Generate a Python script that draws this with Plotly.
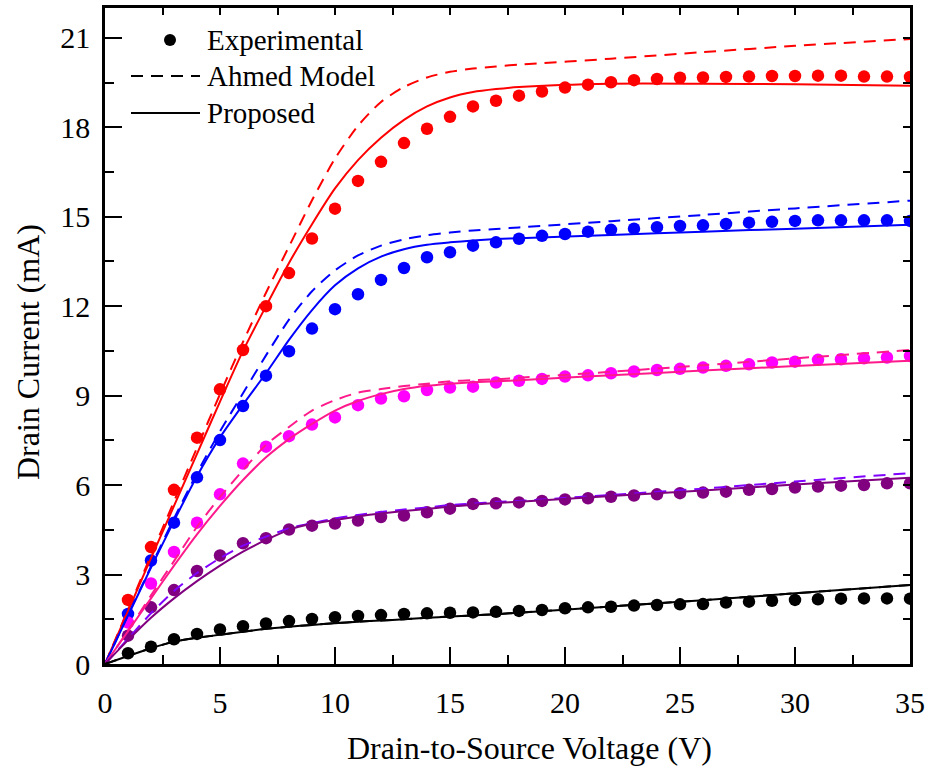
import plotly.graph_objects as go

# ---------------- data ----------------
v_exp = list(range(1, 36))
red_exp = [2.15, 3.92, 5.84, 7.59, 9.21, 10.53, 12.0, 13.11, 14.27, 15.27, 16.2, 16.84, 17.47, 17.95, 18.35,
           18.70, 18.89, 19.06, 19.2, 19.33, 19.43, 19.51, 19.58, 19.62, 19.66, 19.67, 19.69, 19.70, 19.72,
           19.72, 19.73, 19.73, 19.70, 19.70, 19.69]
blue_exp = [1.68, 3.47, 4.74, 6.26, 7.51, 8.65, 9.67, 10.49, 11.25, 11.90, 12.40, 12.88, 13.28, 13.64, 13.81,
            14.03, 14.14, 14.26, 14.36, 14.42, 14.50, 14.56, 14.60, 14.65, 14.69, 14.71, 14.76, 14.80, 14.83,
            14.86, 14.88, 14.88, 14.88, 14.88, 14.86]
magenta_exp = [1.39, 2.70, 3.76, 4.74, 5.69, 6.72, 7.29, 7.64, 8.03, 8.27, 8.68, 8.90, 8.98, 9.19, 9.27, 9.30,
               9.44, 9.50, 9.56, 9.64, 9.68, 9.75, 9.81, 9.86, 9.90, 9.94, 10.00, 10.05, 10.11, 10.14, 10.20,
               10.22, 10.25, 10.28, 10.33]
purple_exp = [0.95, 1.90, 2.48, 3.12, 3.64, 4.05, 4.22, 4.51, 4.64, 4.71, 4.81, 4.93, 4.98, 5.09, 5.21, 5.37,
              5.39, 5.42, 5.47, 5.52, 5.56, 5.61, 5.65, 5.69, 5.73, 5.75, 5.78, 5.84, 5.87, 5.92, 5.95, 5.98,
              6.00, 6.06, 6.06]
black_exp = [0.36, 0.58, 0.83, 1.01, 1.16, 1.27, 1.36, 1.44, 1.51, 1.57, 1.61, 1.64, 1.68, 1.70, 1.72, 1.73,
             1.75, 1.78, 1.81, 1.87, 1.90, 1.92, 1.96, 1.98, 2.00, 2.01, 2.06, 2.09, 2.12, 2.15, 2.17, 2.19,
             2.20, 2.20, 2.19]

v_mod = list(range(0, 19)) + [22, 26, 30, 35]
red_prop = [0, 1.77, 3.55, 5.3, 7.05, 8.8, 10.5, 12.0, 13.45, 14.75, 15.95, 16.9, 17.65, 18.25, 18.7, 19.0,
            19.18, 19.28, 19.35, 19.46, 19.46, 19.44, 19.39]
red_ahmed = [0, 1.82, 3.65, 5.45, 7.25, 9.05, 10.8, 12.45, 14.0, 15.55, 16.95, 18.05, 18.85, 19.35, 19.67, 19.86,
             19.97, 20.04, 20.1, 20.3, 20.52, 20.73, 20.96]
blue_prop = [0, 1.62, 3.23, 4.8, 6.3, 7.6, 8.7, 9.75, 10.87, 11.87, 12.7, 13.27, 13.66, 13.91, 14.06, 14.14,
             14.2, 14.25, 14.28, 14.39, 14.5, 14.6, 14.73]
blue_ahmed = [0, 1.64, 3.27, 4.88, 6.4, 7.8, 9.08, 10.35, 11.55, 12.5, 13.2, 13.7, 14.03, 14.24, 14.38, 14.47,
              14.54, 14.59, 14.64, 14.85, 15.06, 15.28, 15.54]
magenta_prop = [0, 1.1, 2.2, 3.3, 4.35, 5.3, 6.17, 6.93, 7.54, 8.05, 8.5, 8.82, 9.05, 9.22, 9.33, 9.4, 9.45,
                9.48, 9.52, 9.68, 9.84, 9.99, 10.17]
magenta_ahmed = [0, 1.12, 2.3, 3.45, 4.6, 5.6, 6.5, 7.35, 7.95, 8.5, 8.85, 9.1, 9.22, 9.32, 9.4, 9.48, 9.52,
                 9.55, 9.6, 9.8, 10.02, 10.25, 10.53]
purple_prop = [0, 0.8, 1.55, 2.2, 2.78, 3.3, 3.77, 4.16, 4.5, 4.7, 4.83, 4.95, 5.05, 5.13, 5.2, 5.28, 5.34,
               5.4, 5.44, 5.63, 5.82, 6.02, 6.25]
purple_ahmed = [0, 0.85, 1.7, 2.45, 3.05, 3.55, 3.97, 4.27, 4.55, 4.72, 4.88, 5.0, 5.1, 5.18, 5.25, 5.33, 5.38,
                5.43, 5.47, 5.67, 5.88, 6.12, 6.40]
black_prop = [0, 0.27, 0.53, 0.75, 0.88, 0.98, 1.08, 1.18, 1.25, 1.31, 1.37, 1.42, 1.46, 1.5, 1.55, 1.59, 1.63,
              1.67, 1.72, 1.93, 2.14, 2.37, 2.65]
black_ahmed = list(black_prop)

x_ticks = [0, 5, 10, 15, 20, 25, 30, 35]
y_ticks = [0, 3, 6, 9, 12, 15, 18, 21]
legend_labels = ["Experimental", "Ahmed Model", "Proposed"]
x_title = "Drain-to-Source Voltage (V)"
y_title = "Drain Current (mA)"

series = [
    (red_exp, red_ahmed, red_prop, "#FF0000", "#FF0000", "#FF0000"),
    (blue_exp, blue_ahmed, blue_prop, "#0000FF", "#0000FF", "#0000FF"),
    (magenta_exp, magenta_ahmed, magenta_prop, "#FF00FF", "#FF1A8C", "#FF1A8C"),
    (purple_exp, purple_ahmed, purple_prop, "#800080", "#8000FF", "#800080"),
    (black_exp, black_ahmed, black_prop, "#000000", "#000000", "#000000"),
]

FONT = "Liberation Serif"
fig = go.Figure()
for exp, ahm, prop, cdot, cdash, csolid in series:
    fig.add_trace(go.Scatter(x=v_exp, y=exp, mode="markers",
                             marker=dict(size=12.5, color=cdot), showlegend=False))
for exp, ahm, prop, cdot, cdash, csolid in series:
    fig.add_trace(go.Scatter(x=v_mod, y=ahm, mode="lines",
                             line=dict(color=cdash, width=2, dash="12px,8px", shape="spline", smoothing=0.7),
                             showlegend=False))
    fig.add_trace(go.Scatter(x=v_mod, y=prop, mode="lines",
                             line=dict(color=csolid, width=2, shape="spline", smoothing=0.7),
                             showlegend=False))

# invisible trace for mirrored axes
fig.add_trace(go.Scatter(x=[0, 35], y=[0, 0], mode="lines", line=dict(width=0),
                         xaxis="x2", yaxis="y2", showlegend=False, hoverinfo="skip"))

axis_common = dict(showgrid=False, zeroline=False, linecolor="black", linewidth=2.5,
                   tickcolor="black", tickwidth=2, automargin=False)
fig.update_layout(
    width=925, height=767,
    margin=dict(l=105, r=15, t=8, b=103),
    paper_bgcolor="white", plot_bgcolor="white",
    font=dict(family=FONT, size=29, color="black"),
    xaxis=dict(range=[0, 35], tickvals=x_ticks, ticks="inside", ticklen=17, ticklabelstandoff=10,
               minor=dict(dtick=2.5, ticks="inside", ticklen=9, tickcolor="black", tickwidth=2),
               tickfont=dict(family=FONT, size=30), showline=True, **axis_common),
    yaxis=dict(range=[0, 22], tickvals=y_ticks, ticks="inside", ticklen=17, ticklabelstandoff=6,
               minor=dict(dtick=1.5, ticks="inside", ticklen=9, tickcolor="black", tickwidth=2),
               tickfont=dict(family=FONT, size=30), showline=True, **axis_common),
    xaxis2=dict(range=[0, 35], overlaying="x", side="top", dtick=2.5, tick0=0, ticks="inside",
                ticklen=7, showticklabels=False, showline=True, **axis_common),
    yaxis2=dict(range=[0, 22], overlaying="y", side="right", dtick=1.5, tick0=0, ticks="inside",
                ticklen=7, showticklabels=False, showline=True, **axis_common),
    showlegend=False,
)

# pixel positions converted to paper coords
W, H = 925 - 105 - 15, 767 - 8 - 103
def px(x):
    return (x - 105) / W
def py(y):
    return (664 - y) / H

# axis titles
fig.add_annotation(text=x_title, xref="paper", yref="paper", x=px(529), y=py(748),
                   xanchor="center", yanchor="middle", showarrow=False,
                   font=dict(family=FONT, size=32, color="black"))
fig.add_annotation(text=y_title, xref="paper", yref="paper", x=px(28), y=py(352),
                   xanchor="center", yanchor="middle", showarrow=False, textangle=-90,
                   font=dict(family=FONT, size=32, color="black"))

# manual legend
fig.add_shape(type="circle", xref="paper", yref="paper",
              x0=px(164), x1=px(176), y0=py(46), y1=py(34),
              fillcolor="black", line=dict(color="black", width=0))
fig.add_shape(type="line", xref="paper", yref="paper", x0=px(131), x1=px(200), y0=py(76), y1=py(76),
              line=dict(color="black", width=2, dash="12px,8px"))
fig.add_shape(type="line", xref="paper", yref="paper", x0=px(131), x1=px(200), y0=py(113), y1=py(113),
              line=dict(color="black", width=2))
for lab, yy in zip(legend_labels, [40, 76, 113]):
    fig.add_annotation(text=lab, xref="paper", yref="paper", x=px(205), y=py(yy),
                       xanchor="left", yanchor="middle", showarrow=False,
                       font=dict(family=FONT, size=29, color="black"))

fig.write_html("out.html")
